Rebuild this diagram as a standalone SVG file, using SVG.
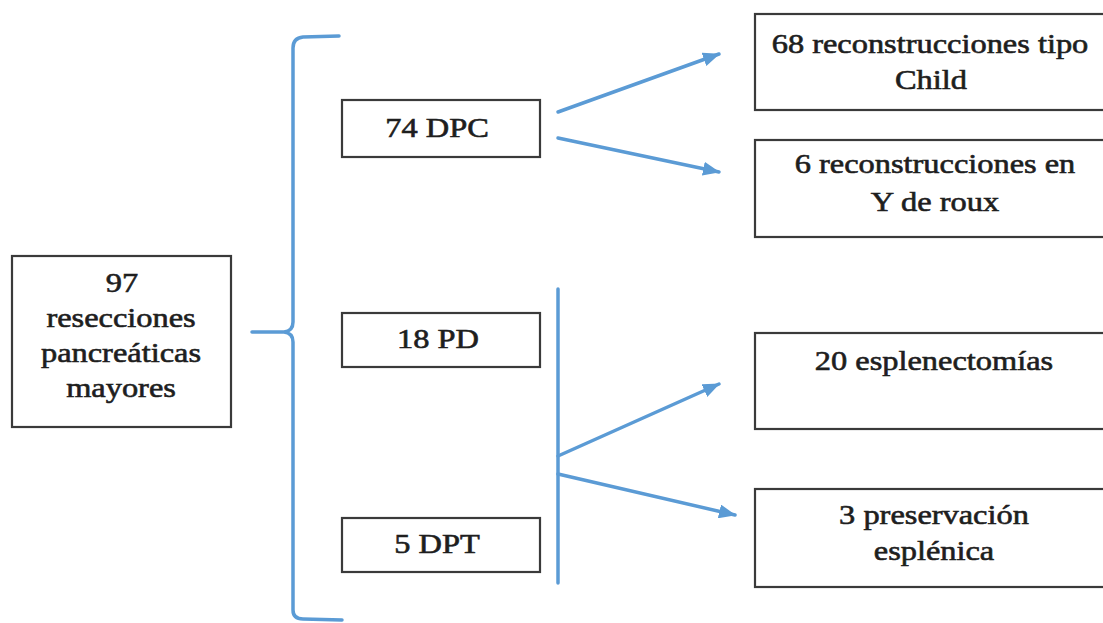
<svg xmlns="http://www.w3.org/2000/svg" width="1103" height="623" viewBox="0 0 1103 623">
  <defs>
    <style>
      .box { fill: #ffffff; stroke: #3a3a3a; stroke-width: 2.2; }
      .lbl { font-family: "Liberation Serif", "Times New Roman", serif; font-size: 27px; fill: #1e1e1e; stroke: #1e1e1e; stroke-width: 0.6; text-anchor: middle; }
      .conn { fill: none; stroke: #5b9bd5; stroke-width: 3.5; stroke-linecap: round; stroke-linejoin: round; }
    </style>
    <marker id="arrow" markerUnits="userSpaceOnUse" markerWidth="18" markerHeight="14" refX="16" refY="7" orient="auto">
      <path d="M0,0 L17,7 L0,14 Z" fill="#5b9bd5"/>
    </marker>
  </defs>
  <rect width="1103" height="623" fill="#ffffff"/>

  <!-- connectors -->
  <g id="connectors">
    <!-- brace grouping the three resection types -->
    <path class="conn" d="M339,36 L303,37 Q293,38 293,48 L293,322 Q293,331 284,332 L252,332 M284,332 Q293,333 293,342 L293,610 Q293,619 303,619 L342,620"/>
    <!-- DPC branches -->
    <line class="conn" x1="558" y1="112" x2="719" y2="54" marker-end="url(#arrow)"/>
    <line class="conn" x1="558" y1="138" x2="719" y2="172" marker-end="url(#arrow)"/>
    <!-- PD / DPT shared bar and branches -->
    <line class="conn" x1="558" y1="289" x2="558" y2="583"/>
    <line class="conn" x1="558" y1="456" x2="719" y2="384" marker-end="url(#arrow)"/>
    <line class="conn" x1="558" y1="474" x2="735" y2="515" marker-end="url(#arrow)"/>
  </g>

  <g id="total">
    <rect class="box" x="12" y="256" width="219" height="171"/>
    <text class="lbl" transform="translate(122,292) scale(1.2,1)">97</text>
    <text class="lbl" transform="translate(121,327) scale(1.2,1)">resecciones</text>
    <text class="lbl" transform="translate(121,362) scale(1.2,1)">pancreáticas</text>
    <text class="lbl" transform="translate(121,397) scale(1.2,1)">mayores</text>
  </g>

  <g id="dpc">
    <rect class="box" x="342" y="100" width="198" height="57"/>
    <text class="lbl" transform="translate(437,137) scale(1.2,1)">74 DPC</text>
  </g>

  <g id="pd">
    <rect class="box" x="342" y="313" width="198" height="54"/>
    <text class="lbl" transform="translate(438,348) scale(1.2,1)">18 PD</text>
  </g>

  <g id="dpt">
    <rect class="box" x="342" y="518" width="198" height="54"/>
    <text class="lbl" transform="translate(437,553) scale(1.2,1)">5 DPT</text>
  </g>

  <g id="child">
    <rect class="box" x="755" y="14" width="360" height="96"/>
    <text class="lbl" transform="translate(930,53) scale(1.2,1)">68 reconstrucciones tipo</text>
    <text class="lbl" transform="translate(931,89) scale(1.2,1)">Child</text>
  </g>

  <g id="roux">
    <rect class="box" x="755" y="140" width="360" height="97"/>
    <text class="lbl" transform="translate(935,173) scale(1.2,1)">6 reconstrucciones en</text>
    <text class="lbl" transform="translate(935,211) scale(1.2,1)">Y de roux</text>
  </g>

  <g id="esplenectomia">
    <rect class="box" x="755" y="333" width="360" height="96"/>
    <text class="lbl" transform="translate(934,370) scale(1.2,1)">20 esplenectomías</text>
  </g>

  <g id="preservacion">
    <rect class="box" x="755" y="489" width="360" height="98"/>
    <text class="lbl" transform="translate(934,524) scale(1.2,1)">3 preservación</text>
    <text class="lbl" transform="translate(934,560) scale(1.2,1)">esplénica</text>
  </g>
</svg>
